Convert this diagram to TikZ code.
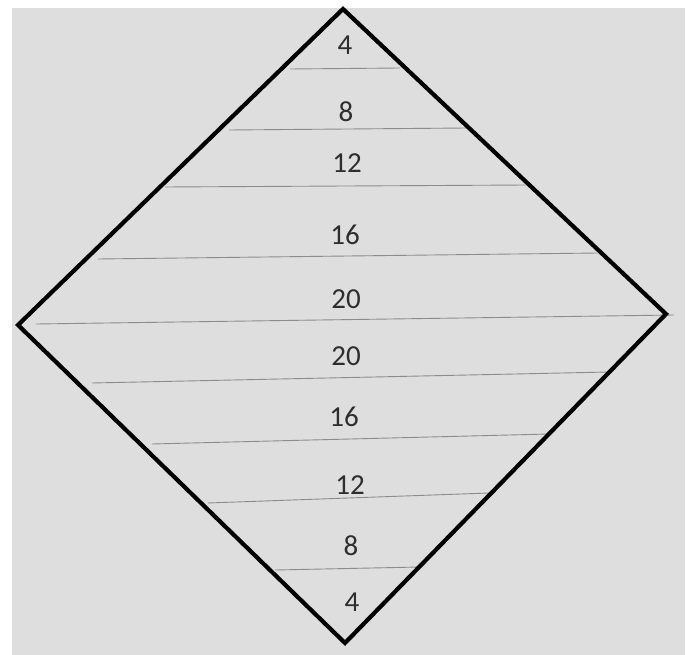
\documentclass[tikz,border=0pt]{standalone}
\usepackage{fontspec}
\setmainfont{Carlito}
\usetikzlibrary{positioning,calc}
\tikzset{
  paper/.style={fill=black!13,draw=none},
  rim/.style={draw=black,line width=4.2pt,line join=miter},
  rule/.style={black!45,line width=0.9pt},
  rowlbl/.style={font=\fontsize{29}{31}\selectfont,text=black!82,inner sep=1pt},
}
\begin{document}
\begin{tikzpicture}[x=1pt,y=-1pt]
  \useasboundingbox (0,0) rectangle (694,655);
  \fill[white] (0,0) rectangle (694,655);
  \fill[paper] (12,8) rectangle (685,655);
  \coordinate (top) at (343,9);
  \coordinate (lft) at (18,325);
  \coordinate (rgt) at (666,314);
  \coordinate (bot) at (345,643);
  % rules across the diamond
  \foreach \xa/\ya/\xb/\yb in {290/69/400/68, 229/130/467/128, 165/187/527/185,
      98/259/598/253, 36/324/674/315, 92/383/609/372, 152/444/549/434,
      208/503/489/493, 275/570/420/567}
    \draw[rule] (\xa,\ya) -- (\xb,\yb);
  \draw[rim] (top) -- (rgt) -- (bot) -- (lft) -- cycle;
  % row labels
  \foreach \n/\x/\y/\t in {a/345/45/4, b/346/112/8, c/347/163/12, d/345/235/16,
      e/346/299/20, f/346/356/20, g/344/417/16, h/350/485/12, i/351/546/8, j/352/602/4}
    \node[rowlbl] (l\n) at (\x,\y) {\t};
\end{tikzpicture}
\end{document}
